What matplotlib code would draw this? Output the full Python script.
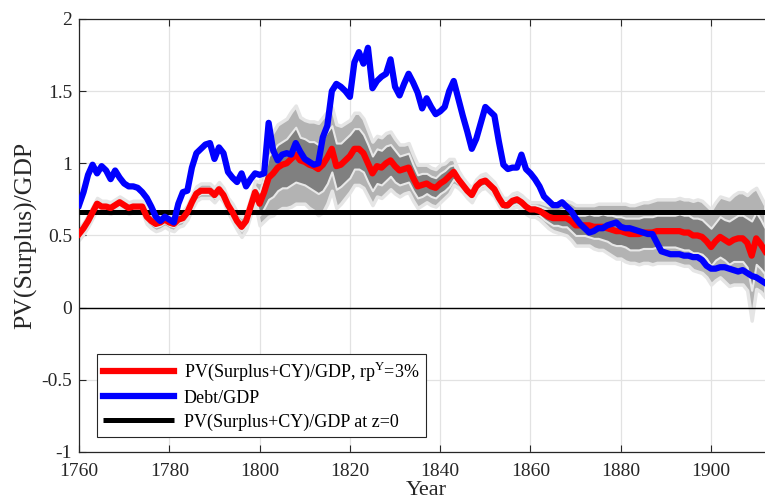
import numpy as np
import matplotlib
matplotlib.use('Agg')
import matplotlib.pyplot as plt

plt.rcParams['font.family'] = ['Liberation Serif', 'DejaVu Serif']
plt.rcParams['axes.unicode_minus'] = False
plt.rcParams['mathtext.fontset'] = 'custom'
plt.rcParams['mathtext.rm'] = 'Liberation Serif'

years = np.arange(1760, 1913)

# Debt/GDP
debt = [0.71, 0.80, 0.92, 0.99, 0.93, 0.98, 0.95, 0.89, 0.95, 0.90,
        0.86, 0.84, 0.84, 0.83, 0.80, 0.76, 0.70, 0.63, 0.60, 0.63,
        0.61, 0.59, 0.72, 0.80, 0.81, 0.97, 1.07, 1.10, 1.13, 1.14,
        1.03, 1.11, 1.07, 0.94, 0.90, 0.87, 0.93, 0.84, 0.89, 0.93,
        0.92, 0.93, 1.28, 1.09, 1.02, 1.06, 1.07, 1.06, 1.14, 1.08,
        1.03, 1.01, 0.99, 1.00, 1.18, 1.26, 1.50, 1.55, 1.53, 1.50,
        1.46, 1.70, 1.77, 1.69, 1.80, 1.52, 1.57, 1.60, 1.62, 1.72,
        1.53, 1.47, 1.55, 1.62, 1.56, 1.49, 1.38, 1.45, 1.39, 1.34,
        1.36, 1.39, 1.50, 1.57, 1.45, 1.33, 1.22, 1.10, 1.17, 1.28,
        1.39, 1.36, 1.33, 1.15, 0.99, 0.96, 0.97, 0.97, 1.06, 0.96,
        0.93, 0.89, 0.84, 0.77, 0.74, 0.71, 0.71, 0.73, 0.70, 0.67,
        0.62, 0.58, 0.55, 0.52, 0.53, 0.55, 0.55, 0.57, 0.58, 0.59,
        0.56, 0.55, 0.55, 0.54, 0.53, 0.52, 0.51, 0.51, 0.45, 0.39,
        0.38, 0.37, 0.37, 0.37, 0.36, 0.36, 0.35, 0.35, 0.33, 0.29,
        0.27, 0.27, 0.28, 0.28, 0.27, 0.26, 0.25, 0.26, 0.24, 0.22,
        0.21, 0.19, 0.17]

# PV(Surplus+CY)/GDP, rp^Y = 3%
pv = [0.51, 0.55, 0.60, 0.66, 0.72, 0.70, 0.70, 0.69, 0.71, 0.73,
      0.71, 0.69, 0.70, 0.70, 0.70, 0.63, 0.60, 0.58, 0.59, 0.61,
      0.59, 0.58, 0.61, 0.62, 0.66, 0.73, 0.79, 0.81, 0.81, 0.81,
      0.78, 0.82, 0.78, 0.71, 0.66, 0.60, 0.56, 0.60, 0.70, 0.80,
      0.72, 0.80, 0.90, 0.93, 0.97, 0.99, 1.00, 1.03, 1.06, 1.02,
      1.01, 0.99, 0.98, 0.96, 0.99, 1.04, 1.10, 0.98, 0.99, 1.02,
      1.05, 1.10, 1.10, 1.07, 1.00, 0.93, 0.98, 0.97, 1.00, 1.02,
      0.98, 0.95, 0.96, 0.97, 0.90, 0.84, 0.85, 0.86, 0.84, 0.83,
      0.86, 0.88, 0.91, 0.94, 0.89, 0.85, 0.81, 0.78, 0.84, 0.87,
      0.88, 0.85, 0.82, 0.76, 0.71, 0.71, 0.74, 0.75, 0.73, 0.70,
      0.68, 0.68, 0.67, 0.65, 0.63, 0.62, 0.62, 0.62, 0.62, 0.60,
      0.57, 0.57, 0.57, 0.57, 0.56, 0.56, 0.56, 0.55, 0.54, 0.53,
      0.53, 0.52, 0.51, 0.51, 0.51, 0.52, 0.52, 0.52, 0.53, 0.53,
      0.53, 0.53, 0.53, 0.53, 0.52, 0.52, 0.50, 0.50, 0.49, 0.46,
      0.42, 0.46, 0.49, 0.47, 0.45, 0.47, 0.48, 0.48, 0.45, 0.36,
      0.48, 0.44, 0.39]

# half-widths of the outer (light) and inner (dark) bands around pv
outer_hw = [0.04, 0.04, 0.04, 0.04, 0.04, 0.04, 0.04, 0.04, 0.04, 0.04,
            0.04, 0.04, 0.04, 0.04, 0.04, 0.05, 0.05, 0.05, 0.05, 0.05,
            0.05, 0.05, 0.05, 0.05, 0.05, 0.05, 0.05, 0.05, 0.05, 0.05,
            0.05, 0.05, 0.05, 0.05, 0.06, 0.06, 0.07, 0.06, 0.06, 0.08,
            0.15, 0.20, 0.27, 0.29, 0.30, 0.30, 0.31, 0.33, 0.34, 0.30,
            0.29, 0.30, 0.31, 0.32, 0.33, 0.32, 0.29, 0.29, 0.27, 0.26,
            0.25, 0.25, 0.25, 0.24, 0.23, 0.22, 0.21, 0.21, 0.21, 0.20,
            0.19, 0.18, 0.17, 0.17, 0.16, 0.15, 0.14, 0.13, 0.13, 0.13,
            0.13, 0.12, 0.12, 0.09, 0.06, 0.05, 0.05, 0.05, 0.05, 0.05,
            0.05, 0.05, 0.05, 0.05, 0.05, 0.05, 0.05, 0.05, 0.05, 0.05,
            0.05, 0.05, 0.06, 0.07, 0.08, 0.09, 0.10, 0.11, 0.12, 0.13,
            0.14, 0.14, 0.14, 0.14, 0.15, 0.16, 0.16, 0.17, 0.18, 0.19,
            0.19, 0.20, 0.20, 0.20, 0.21, 0.21, 0.21, 0.22, 0.22, 0.22,
            0.22, 0.22, 0.22, 0.23, 0.23, 0.23, 0.24, 0.25, 0.25, 0.25,
            0.26, 0.27, 0.28, 0.29, 0.30, 0.31, 0.32, 0.32, 0.33, 0.45,
            0.35, 0.33, 0.32]

inner_hw = [0.02, 0.02, 0.02, 0.02, 0.02, 0.02, 0.02, 0.02, 0.02, 0.02,
            0.02, 0.02, 0.02, 0.02, 0.02, 0.02, 0.02, 0.02, 0.02, 0.02,
            0.02, 0.02, 0.02, 0.02, 0.02, 0.02, 0.02, 0.02, 0.02, 0.02,
            0.02, 0.02, 0.02, 0.02, 0.03, 0.03, 0.03, 0.03, 0.03, 0.04,
            0.08, 0.11, 0.15, 0.16, 0.16, 0.16, 0.17, 0.18, 0.19, 0.16,
            0.16, 0.16, 0.17, 0.17, 0.18, 0.18, 0.16, 0.16, 0.15, 0.15,
            0.15, 0.14, 0.14, 0.13, 0.13, 0.12, 0.12, 0.12, 0.12, 0.11,
            0.11, 0.10, 0.10, 0.10, 0.09, 0.08, 0.08, 0.07, 0.07, 0.07,
            0.07, 0.07, 0.07, 0.05, 0.03, 0.03, 0.03, 0.03, 0.03, 0.03,
            0.03, 0.03, 0.03, 0.03, 0.03, 0.03, 0.03, 0.03, 0.03, 0.03,
            0.03, 0.03, 0.03, 0.04, 0.04, 0.05, 0.05, 0.06, 0.06, 0.07,
            0.07, 0.07, 0.07, 0.08, 0.08, 0.08, 0.09, 0.09, 0.10, 0.10,
            0.10, 0.10, 0.11, 0.11, 0.11, 0.11, 0.11, 0.11, 0.11, 0.11,
            0.11, 0.11, 0.11, 0.12, 0.12, 0.12, 0.12, 0.12, 0.12, 0.12,
            0.13, 0.13, 0.14, 0.14, 0.15, 0.15, 0.16, 0.16, 0.17, 0.24,
            0.18, 0.17, 0.16]

pv_z0 = 0.66

xticks = [1760, 1780, 1800, 1820, 1840, 1860, 1880, 1900]
yticks = [-1, -0.5, 0, 0.5, 1, 1.5, 2]
ytick_labels = ['-1', '-0.5', '0', '0.5', '1', '1.5', '2']

pv = np.array(pv)
outer_hw = np.array(outer_hw)
inner_hw = np.array(inner_hw)

fig = plt.figure(figsize=(7.65, 5.03), dpi=100)
ax = fig.add_axes([0.1033, 0.1014, 0.9088, 0.861])

ax.fill_between(years, pv - outer_hw, pv + outer_hw, facecolor='#b3b3b3',
                edgecolor='#e5e5e5', linewidth=2.5, zorder=1)
ax.fill_between(years, pv - inner_hw, pv + inner_hw, facecolor='#808080',
                edgecolor='#e8e8e8', linewidth=1.5, zorder=2)

ax.axhline(0, color='k', lw=1, zorder=2.5)
l3, = ax.plot([1760, 1914], [pv_z0, pv_z0], color='k', lw=3.6, zorder=3,
              solid_capstyle='butt')
l1, = ax.plot(years, pv, color='#ff0000', lw=4.5, zorder=4)
l2, = ax.plot(years, debt, color='#0000ff', lw=4.5, zorder=5)

ax.set_xlim(1760, 1914)
ax.set_ylim(-1, 2)
ax.set_xticks(xticks)
ax.set_yticks(yticks)
ax.set_yticklabels(ytick_labels)
ax.tick_params(direction='in', labelsize=14, length=5, width=0.8,
               top=True, right=False, colors='#262626')
ax.tick_params(axis='x', pad=8)
ax.tick_params(axis='y', pad=5)
ax.grid(True, color='#e2e2e2', lw=0.9)
ax.set_axisbelow(True)
for s in ['top', 'bottom', 'left']:
    ax.spines[s].set_color('#262626')
    ax.spines[s].set_linewidth(0.9)
ax.spines['right'].set_visible(False)

ax.set_xlabel('Year', fontsize=16, color='#262626', labelpad=0.5)
ax.set_ylabel('PV(Surplus)/GDP', fontsize=18.5, color='#262626', labelpad=3)

leg = ax.legend([l1, l2, l3],
                ['PV(Surplus+CY)/GDP, rp$^{\\mathrm{Y}}$=3%', 'Debt/GDP',
                 'PV(Surplus+CY)/GDP at z=0'],
                loc='lower left', bbox_to_anchor=(0.026, 0.035),
                borderaxespad=0, fontsize=13, fancybox=False,
                edgecolor='#262626', framealpha=1, handlelength=3.9,
                handletextpad=0.55, labelspacing=0.36, borderpad=0.35)
leg.get_frame().set_linewidth(0.8)

fig.savefig('out.png', dpi=100)
